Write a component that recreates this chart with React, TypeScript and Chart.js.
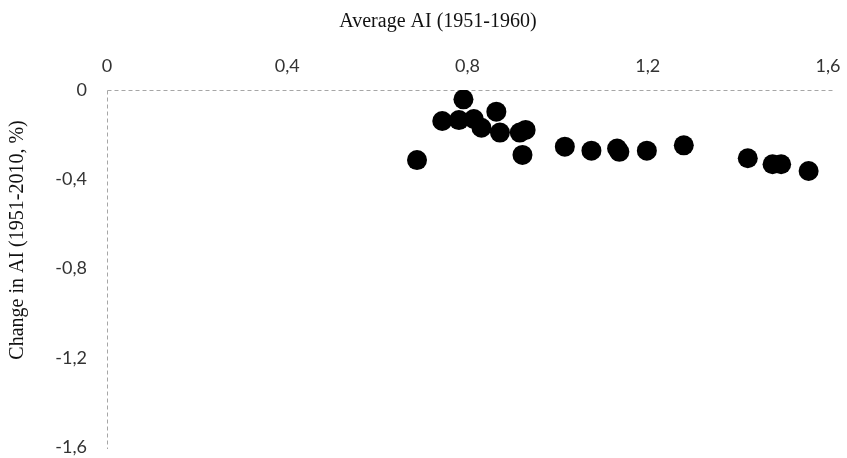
import React, { useEffect, useRef } from "react";
import { Chart, registerables } from "chart.js";

Chart.register(...registerables);

const averageAI = [
  0.688, 0.744, 0.781, 0.791, 0.814, 0.831, 0.864, 0.872, 0.916, 0.929, 0.922,
  1.016, 1.075, 1.132, 1.137, 1.198, 1.28, 1.422, 1.477, 1.496, 1.557,
];
const changeAI = [
  -0.314, -0.139, -0.135, -0.042, -0.13, -0.169, -0.097, -0.191, -0.191, -0.179, -0.291,
  -0.254, -0.272, -0.262, -0.277, -0.272, -0.248, -0.306, -0.333, -0.333, -0.363,
];
const xTitle = "Average AI (1951-1960)";
const yTitle = "Change in AI (1951-2010, %)";

const fmt = (v: number) => {
  const r = Math.round(v * 10) / 10;
  if (r === 0) return "0";
  return r.toFixed(1).replace(".", ",");
};

const axesDecor = {
  id: "axesDecor",
  beforeDatasetsDraw(chart: any) {
    const { ctx, chartArea } = chart;
    ctx.save();
    ctx.strokeStyle = "#a6a6a6";
    ctx.lineWidth = 1;
    ctx.setLineDash([4, 3]);
    ctx.beginPath();
    ctx.moveTo(chartArea.left + 0.5, chartArea.top + 0.5);
    ctx.lineTo(chartArea.right + 5, chartArea.top + 0.5);
    ctx.moveTo(chartArea.left + 0.5, chartArea.top + 0.5);
    ctx.lineTo(chartArea.left + 0.5, chartArea.bottom + 2);
    ctx.stroke();
    ctx.setLineDash([]);
    ctx.fillStyle = "#111";
    ctx.font = "20px 'Liberation Serif'";
    ctx.textAlign = "center";
    ctx.textBaseline = "middle";
    ctx.fillText(xTitle, chartArea.left + (chartArea.right - chartArea.left) * 0.459, 22);
    ctx.translate(18, chartArea.top + (chartArea.bottom - chartArea.top) * 0.42);
    ctx.rotate(-Math.PI / 2);
    ctx.fillText(yTitle, 0, 0);
    ctx.restore();
  },
};

export default function App() {
  const ref = useRef<HTMLCanvasElement>(null);
  useEffect(() => {
    document.body.style.margin = "0";
    const points = averageAI.map((x, i) => ({ x, y: changeAI[i] }));
    const chart = new Chart(ref.current!, {
      type: "scatter",
      data: {
        datasets: [
          {
            data: points,
            backgroundColor: "#000",
            borderColor: "#000",
            borderWidth: 0,
            pointRadius: 10,
            pointHoverRadius: 10,
          },
        ],
      },
      plugins: [axesDecor],
      options: {
        animation: false,
        responsive: false,
        layout: { padding: { top: 0, right: 19, bottom: 11, left: 0 } },
        plugins: { legend: { display: false }, tooltip: { enabled: false } },
        scales: {
          x: {
            type: "linear",
            position: "top",
            min: 0,
            max: 1.6,
            ticks: {
              stepSize: 0.4,
              callback: (v: any) => fmt(Number(v)),
              color: "#333",
              font: { family: "Lato", size: 18 },
              padding: 13,
            },
            grid: { display: false, drawTicks: false },
            border: { display: false },
            title: { display: false },
            afterFit: (s: any) => {
              s.height = 90;
              s.paddingLeft = 0;
              s.paddingRight = 0;
            },
          },
          y: {
            type: "linear",
            min: -1.6,
            max: 0,
            ticks: {
              stepSize: 0.4,
              callback: (v: any) => fmt(Number(v)),
              color: "#333",
              font: { family: "Lato", size: 18 },
              padding: 20,
            },
            grid: { display: false, drawTicks: false },
            border: { display: false },
            title: { display: false },
            afterFit: (s: any) => {
              s.width = 107;
              s.paddingTop = 0;
              s.paddingBottom = 0;
            },
          },
        },
      },
    });
    return () => chart.destroy();
  }, []);
  return (
    <div style={{ position: "absolute", left: 0, top: 0, width: 847, height: 458, background: "#fff" }}>
      <canvas ref={ref} width={847} height={458} />
    </div>
  );
}
